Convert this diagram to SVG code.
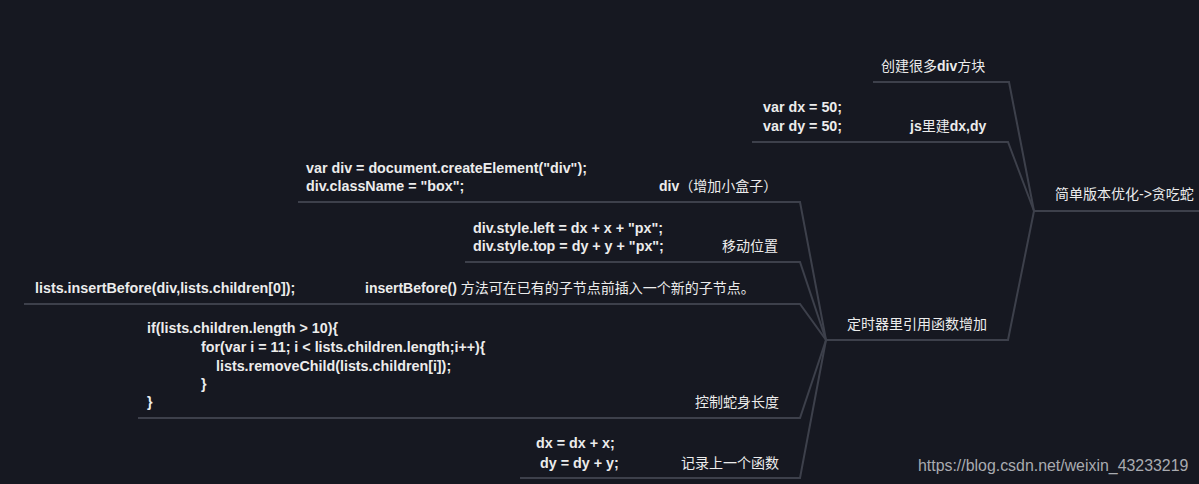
<svg xmlns="http://www.w3.org/2000/svg" width="1199" height="484" viewBox="0 0 1199 484">
<style>
.bg{fill:#161821}
.ln{fill:none;stroke:#3d404b;stroke-width:2}
.t{font-family:"Liberation Sans","Noto Sans CJK SC",sans-serif;font-size:14px;fill:#ececec}
.c{font-family:"Liberation Sans","Noto Sans CJK SC",sans-serif;font-size:14.3px;font-weight:bold;fill:#ececec}
.b{font-weight:bold}
.w{font-family:"Liberation Sans",Arial,sans-serif;font-size:15.9px;fill:#a9abb0}
</style>
<rect class="bg" x="0" y="0" width="1199" height="484"/>
<g id="connectors">
<path class="ln" d="M1034,211 H1199"/>
<path class="ln" d="M873,82 H1009 L1034,211"/>
<path class="ln" d="M752,142 H1008 L1034,211"/>
<path class="ln" d="M826,340 H1008 L1034,211"/>
<path class="ln" d="M298,202 H800 L826,340"/>
<path class="ln" d="M465,262 H800 L826,340"/>
<path class="ln" d="M24,304 H800 L826,340"/>
<path class="ln" d="M138,418 H800 L826,340"/>
<path class="ln" d="M520,478 H800 L826,340"/>
</g>
<g id="root">
<text class="t" x="1055" y="199">简单版本优化-&gt;贪吃蛇</text>
</g>
<g id="n-create">
<text class="t" x="881" y="71">创建很多<tspan class="b">div</tspan>方块</text>
</g>
<g id="n-dxdy">
<text class="c" x="763" y="112">var dx = 50;</text>
<text class="c" x="763" y="131">var dy = 50;</text>
<text class="t" x="910" y="131"><tspan class="b">js</tspan>里建<tspan class="b">dx,dy</tspan></text>
</g>
<g id="n-timer">
<text class="t" x="847" y="329">定时器里引用函数增加</text>
</g>
<g id="n-div">
<text class="c" x="306" y="173">var div = document.createElement("div");</text>
<text class="c" x="306" y="191">div.className = "box";</text>
<text class="t" x="659" y="191"><tspan class="b">div</tspan>（增加小盒子）</text>
</g>
<g id="n-move">
<text class="c" x="473" y="233">div.style.left = dx + x + "px";</text>
<text class="c" x="473" y="251">div.style.top = dy + y + "px";</text>
<text class="t" x="722" y="251">移动位置</text>
</g>
<g id="n-insert">
<text class="c" x="35" y="293">lists.insertBefore(div,lists.children[0]);</text>
<text class="t" x="365" y="293"><tspan class="b">insertBefore()</tspan> 方法可在已有的子节点前插入一个新的子节点。</text>
</g>
<g id="n-length">
<text class="c" x="147" y="333">if(lists.children.length &gt; 10){</text>
<text class="c" x="201" y="352">for(var i = 11; i &lt; lists.children.length;i++){</text>
<text class="c" x="216" y="371">lists.removeChild(lists.children[i]);</text>
<text class="c" x="201" y="389">}</text>
<text class="c" x="147" y="407">}</text>
<text class="t" x="695" y="407">控制蛇身长度</text>
</g>
<g id="n-record">
<text class="c" x="536" y="448">dx = dx + x;</text>
<text class="c" x="540" y="468">dy = dy + y;</text>
<text class="t" x="681" y="468">记录上一个函数</text>
</g>
<text class="w" x="918" y="471">https://blog.csdn.net/weixin_43233219</text>
</svg>
